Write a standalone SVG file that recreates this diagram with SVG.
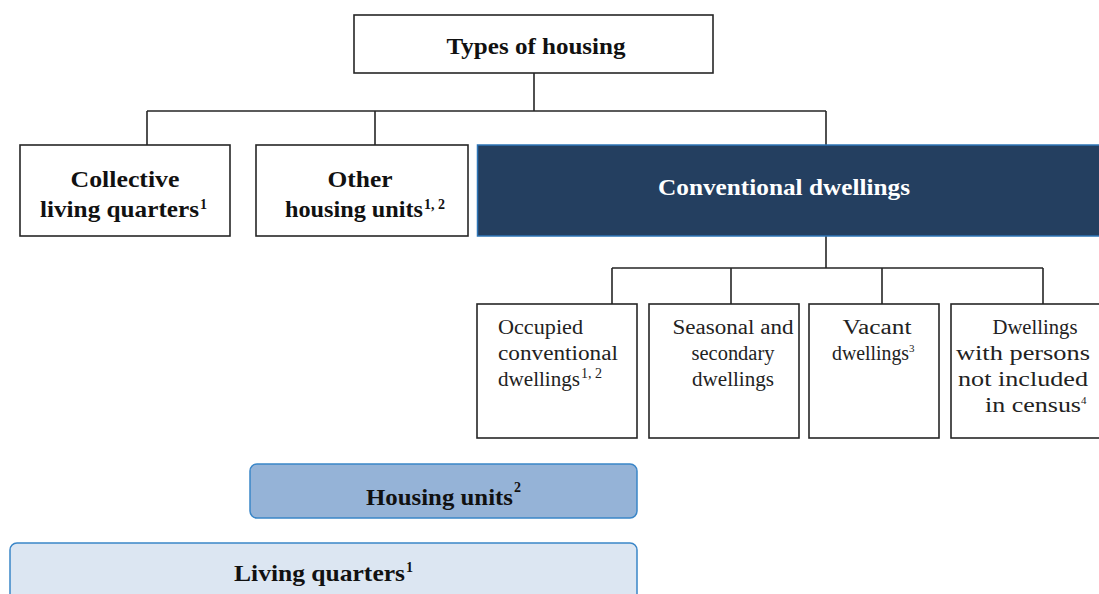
<svg xmlns="http://www.w3.org/2000/svg" width="1099" height="594" viewBox="0 0 1099 594">
<style>
.box{fill:#ffffff;stroke:#262626;stroke-width:1.6}
.conn{fill:none;stroke:#262626;stroke-width:1.6}
.b{font-family:"Liberation Serif","Times New Roman",serif;font-weight:bold;font-size:24px;fill:#111}
.r{font-family:"Liberation Serif","Times New Roman",serif;font-size:20px;fill:#222}
.sb{font-family:"Liberation Serif","Times New Roman",serif;font-weight:bold;font-size:14px;fill:#111}
.sr{font-family:"Liberation Serif","Times New Roman",serif;font-size:14px;fill:#222}
.m{text-anchor:middle}
</style>
<rect width="1099" height="594" fill="#ffffff"/>
<g id="connectors">
<path class="conn" d="M534,73 V111 M147,111 H826 M147,111 V145 M375,111 V145 M826,111 V145"/>
<path class="conn" d="M826,236 V268 M612,268 H1043 M612,268 V304 M731,268 V304 M882,268 V304 M1043,268 V304"/>
</g>
<g id="types-of-housing">
<rect class="box" x="354" y="15" width="359" height="58"/>
<text class="b m" x="536" y="54" textLength="179" lengthAdjust="spacingAndGlyphs">Types of housing</text>
</g>
<g id="collective">
<rect class="box" x="20" y="145" width="210" height="91"/>
<text class="b m" x="125" y="187" textLength="109" lengthAdjust="spacingAndGlyphs">Collective</text>
<text class="b" x="40" y="217" textLength="159" lengthAdjust="spacingAndGlyphs">living quarters</text>
<text class="sb" x="200" y="209">1</text>
</g>
<g id="other">
<rect class="box" x="256" y="145" width="212" height="91"/>
<text class="b m" x="360" y="187" textLength="65" lengthAdjust="spacingAndGlyphs">Other</text>
<text class="b" x="285" y="217" textLength="138" lengthAdjust="spacingAndGlyphs">housing units</text>
<text class="sb" x="424" y="209">1, 2</text>
</g>
<g id="conventional">
<rect x="477.5" y="145" width="630" height="91" fill="#243F60" stroke="#2E75B6" stroke-width="1.5"/>
<text class="b m" x="784" y="195" textLength="252" lengthAdjust="spacingAndGlyphs" style="fill:#ffffff">Conventional dwellings</text>
</g>
<g id="occupied">
<rect class="box" x="477" y="304" width="160" height="134"/>
<text class="r" x="498" y="334" textLength="85" lengthAdjust="spacingAndGlyphs">Occupied</text>
<text class="r" x="498" y="360" textLength="120" lengthAdjust="spacingAndGlyphs">conventional</text>
<text class="r" x="498" y="386" textLength="82" lengthAdjust="spacingAndGlyphs">dwellings</text>
<text class="sr" x="581" y="378">1, 2</text>
</g>
<g id="seasonal">
<rect class="box" x="649" y="304" width="150" height="134"/>
<text class="r m" x="733" y="334" textLength="121" lengthAdjust="spacingAndGlyphs">Seasonal and</text>
<text class="r m" x="733" y="360" textLength="83" lengthAdjust="spacingAndGlyphs">secondary</text>
<text class="r m" x="733" y="386" textLength="82" lengthAdjust="spacingAndGlyphs">dwellings</text>
</g>
<g id="vacant">
<rect class="box" x="809" y="304" width="130" height="134"/>
<text class="r m" x="877" y="334" textLength="69" lengthAdjust="spacingAndGlyphs">Vacant</text>
<text class="r" x="832" y="360" textLength="77" lengthAdjust="spacingAndGlyphs">dwellings</text>
<text class="sr" x="909" y="352" style="font-size:11px">3</text>
</g>
<g id="not-included">
<rect class="box" x="951" y="304" width="160" height="134"/>
<text class="r m" x="1035" y="334" textLength="85" lengthAdjust="spacingAndGlyphs">Dwellings</text>
<text class="r m" x="1023" y="360" textLength="134" lengthAdjust="spacingAndGlyphs">with persons</text>
<text class="r m" x="1023" y="386" textLength="130" lengthAdjust="spacingAndGlyphs">not included</text>
<text class="r" x="985" y="412" textLength="96" lengthAdjust="spacingAndGlyphs">in census</text>
<text class="sr" x="1081" y="404" style="font-size:11px">4</text>
</g>
<g id="housing-units">
<rect x="250" y="464" width="387" height="54" rx="7" fill="#95B3D7" stroke="#3A86C8" stroke-width="1.5"/>
<text class="b" x="366" y="505" textLength="147" lengthAdjust="spacingAndGlyphs">Housing units</text>
<text class="sb" x="514" y="492">2</text>
</g>
<g id="living-quarters">
<rect x="10" y="543" width="627" height="70" rx="7" fill="#DCE6F2" stroke="#3A86C8" stroke-width="1.5"/>
<text class="b" x="234" y="581" textLength="171" lengthAdjust="spacingAndGlyphs">Living quarters</text>
<text class="sb" x="406" y="572">1</text>
</g>
</svg>
